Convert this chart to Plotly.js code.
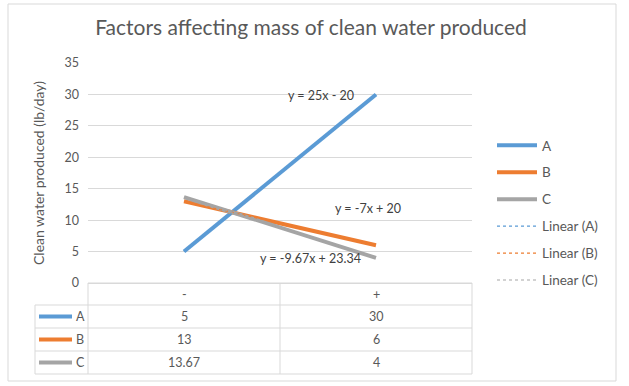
<!DOCTYPE html>
<html>
<head>
<meta charset="utf-8">
<script src="https://cdn.plot.ly/plotly-3.0.1.min.js"></script>
<style>html,body{margin:0;padding:0;background:#fff;}#chart{width:629px;height:386px;}</style>
</head>
<body>
<div id="chart"></div>
<script>
// ---- data ----
var categories = ["-", "+"];
var seriesNames = ["A", "B", "C"];
var valuesA = [5, 30];
var valuesB = [13, 6];
var valuesC = [13.67, 4];
var colors = ["#5B9BD5", "#ED7D31", "#A5A5A5"];
var titleText = "Factors affecting mass of clean water produced";
var yTitleText = "Clean water produced (lb/day)";

var seriesValues = [valuesA, valuesB, valuesC];

// ---- geometry (pixels) ----
var W = 629, H = 386;
var L = 88, R = 472, T = 63, B = 283;
var pw = R - L, ph = B - T;
function fx(x) { return (x - L) / pw; }
function fy(y) { return (B - y) / ph; }
var FONT = "Lato, 'Open Sans', sans-serif";
var TXT = "#595959";
var GRID = "#D9D9D9";

// linear fit (Excel uses x = 1..n)
function fit(vals) {
  var n = vals.length, sx = 0, sy = 0, sxx = 0, sxy = 0;
  for (var i = 0; i < n; i++) { var x = i + 1; sx += x; sy += vals[i]; sxx += x * x; sxy += x * vals[i]; }
  var m = (n * sxy - sx * sy) / (n * sxx - sx * sx);
  var b = (sy - m * sx) / n;
  return { m: m, b: b };
}
function fmt(v) { return String(Number(v.toFixed(2))); }
function eqText(f) {
  var s = "y = " + fmt(f.m) + "x";
  s += (f.b < 0 ? " - " : " + ") + fmt(Math.abs(f.b));
  return s;
}

var traces = [];
seriesValues.forEach(function (vals, i) {
  traces.push({
    type: "scatter", mode: "lines", x: categories, y: vals, name: seriesNames[i],
    line: { color: colors[i], width: 4 }, legendgroup: "g" + i, hoverinfo: "skip"
  });
});
var fits = seriesValues.map(fit);
seriesValues.forEach(function (vals, i) {
  var f = fits[i];
  traces.push({
    type: "scatter", mode: "lines", x: categories,
    y: vals.map(function (_, k) { return f.m * (k + 1) + f.b; }),
    name: "Linear (" + seriesNames[i] + ")",
    line: { color: colors[i], width: 1.2, dash: "dot" }, legendgroup: "t" + i, hoverinfo: "skip"
  });
});

var shapes = [], annotations = [];
// outer chart border
shapes.push({ type: "rect", xref: "paper", yref: "paper", x0: fx(8), x1: fx(616), y0: fy(4), y1: fy(381),
  line: { color: GRID, width: 1 }, fillcolor: "rgba(0,0,0,0)", layer: "below" });

// data table
var rowTops = [283, 305, 328, 351, 374];
var colX = [L, (L + R) / 2, R];
var tableLeft = 35;
rowTops.forEach(function (y, k) {
  shapes.push({ type: "line", xref: "paper", yref: "paper", x0: fx(k === 0 ? L : tableLeft), x1: fx(R), y0: fy(y), y1: fy(y),
    line: { color: GRID, width: 1 } });
});
colX.forEach(function (x) {
  shapes.push({ type: "line", xref: "paper", yref: "paper", x0: fx(x), x1: fx(x), y0: fy(rowTops[0]), y1: fy(rowTops[4]),
    line: { color: GRID, width: 1 } });
});
shapes.push({ type: "line", xref: "paper", yref: "paper", x0: fx(tableLeft), x1: fx(tableLeft), y0: fy(rowTops[1]), y1: fy(rowTops[4]),
  line: { color: GRID, width: 1 } });

// header row: category labels
categories.forEach(function (c, j) {
  annotations.push({ xref: "x", yref: "paper", x: j, y: fy((rowTops[0] + rowTops[1]) / 2), text: c, showarrow: false,
    xanchor: "center", yanchor: "middle", font: { family: FONT, size: 12.5, color: TXT } });
});
// series rows
seriesValues.forEach(function (vals, i) {
  var yc = (rowTops[i + 1] + rowTops[i + 2]) / 2;
  shapes.push({ type: "line", xref: "paper", yref: "paper", x0: fx(39), x1: fx(72), y0: fy(yc), y1: fy(yc),
    line: { color: colors[i], width: 4 } });
  annotations.push({ xref: "paper", yref: "paper", x: fx(74), y: fy(yc), text: seriesNames[i], showarrow: false,
    xanchor: "left", yanchor: "middle", font: { family: FONT, size: 12.5, color: TXT } });
  vals.forEach(function (v, j) {
    annotations.push({ xref: "x", yref: "paper", x: j, y: fy(yc), text: String(v), showarrow: false,
      xanchor: "center", yanchor: "middle", font: { family: FONT, size: 12.5, color: TXT } });
  });
});

// trendline equation labels
var eqPos = [
  { x: 0.895, y: 29.9, xa: "right" },
  { x: 0.775, y: 11.9, xa: "left" },
  { x: 0.385, y: 3.93, xa: "left" }
];
fits.forEach(function (f, i) {
  annotations.push({ xref: "x", yref: "y", x: eqPos[i].x, y: eqPos[i].y, text: eqText(f), showarrow: false,
    xanchor: eqPos[i].xa, yanchor: "middle", font: { family: FONT, size: 12.5, color: "#404040" } });
});

var layout = {
  width: W, height: H,
  margin: { l: L, r: W - R, t: T, b: H - B, pad: 0 },
  paper_bgcolor: "#fff", plot_bgcolor: "#fff",
  title: { text: titleText, x: 311 / W, xanchor: "center", y: 1 - 28 / H, yanchor: "middle",
    font: { family: FONT, size: 21, color: TXT } },
  xaxis: { type: "category", range: [-0.5, 1.5], showticklabels: false, showgrid: false, zeroline: false,
    showline: true, linecolor: GRID, linewidth: 1, ticks: "", fixedrange: true },
  yaxis: { range: [0, 35], dtick: 5, tick0: 0, showgrid: true, gridcolor: GRID, gridwidth: 1, zeroline: false,
    showline: false, ticks: "", ticklabelstandoff: 8,
    tickfont: { family: FONT, size: 12.5, color: TXT },
    title: { text: yTitleText, standoff: 16, font: { family: FONT, size: 14, color: TXT } }, fixedrange: true },
  showlegend: true,
  legend: { x: fx(492), y: fy(130), xanchor: "left", yanchor: "top", traceorder: "grouped", tracegroupgap: 6.4,
    itemwidth: 40, font: { family: FONT, size: 13.5, color: TXT }, bgcolor: "rgba(0,0,0,0)" },
  shapes: shapes,
  annotations: annotations
};

Plotly.newPlot("chart", traces, layout, { displayModeBar: false, staticPlot: true });
</script>
</body>
</html>
